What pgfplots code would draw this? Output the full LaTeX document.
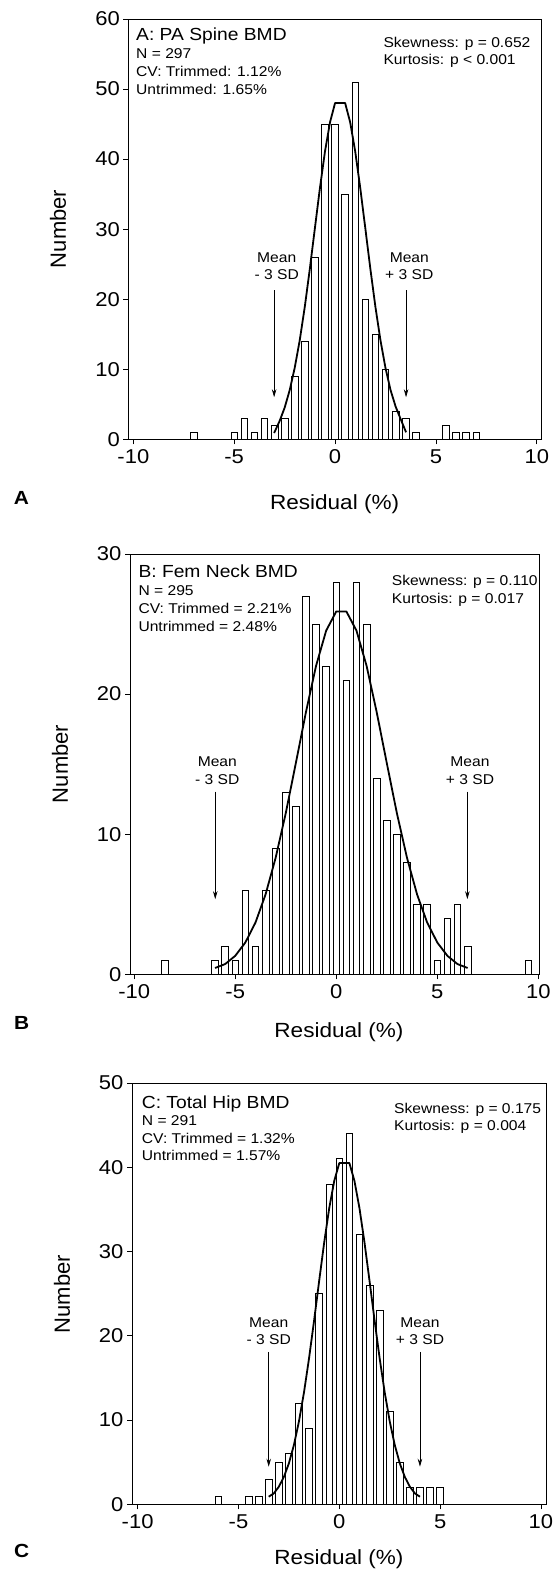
\documentclass[border=0pt]{standalone}
\usepackage{fontspec}
\setmainfont{Liberation Sans}[FakeStretch=1.1]
\newfontfamily\plainsans{Liberation Sans}
\usepackage{pgfplots}
\pgfplotsset{compat=1.18}
\usetikzlibrary{arrows.meta}
\newcommand{\fs}[1]{\fontsize{#1}{#1}\selectfont}
\tikzset{arr/.style={-{Stealth[length=8pt,width=4.5pt]}, line width=0.7pt}}
\pgfplotsset{
  hist/.style={
    scale only axis,
    anchor=south west,
    axis line style={line width=0.8pt},
    tick style={line width=0.7pt,black},
    major tick length=5pt,
    tick align=outside,
    xtick pos=bottom, ytick pos=left,
    xtick={-10,-5,0,5,10},
    xticklabels={-10,-5,0,5,10},
    ticklabel style={font=\fs{20}},
    xticklabel style={yshift=-1.5pt},
    yticklabel style={xshift=0pt},
  },
  bars/.style={ybar, bar shift=0pt, bar width=0.33, fill=white, draw=black, line width=0.7pt},
  curve/.style={black, line width=1.8pt, line join=round},
}
\begin{document}
\begin{tikzpicture}[x=1pt,y=1pt]
\useasboundingbox (0,0) rectangle (556,1571);

% ---------------- Panel A ----------------
\begin{axis}[hist, at={(128.3pt,1131.7pt)}, width=412.7pt, height=420.3pt,
  xmin=-10.25, xmax=10.21, ymin=0, ymax=60,
  ytick={0,10,20,30,40,50,60}, yticklabels={0,10,20,30,40,50,60}]
\addplot[bars] coordinates {
(-7.0,1) (-5.0,1) (-4.5,3) (-4.0,1) (-3.5,3) (-3.0,2) (-2.5,3) (-2.0,9)
(-1.5,14) (-1.0,26) (-0.5,45) (0.0,45) (0.5,35) (1.0,51) (1.5,20) (2.0,15)
(2.5,10) (3.0,4) (3.5,3) (4.0,1) (5.5,2) (6.0,1) (6.5,1) (7.0,1)};
\addplot[curve] coordinates {
(-3.02,0.9) (-2.75,2.6) (-2.5,4.5) (-2.25,7.0) (-2.0,10.2) (-1.75,14.15)
(-1.5,18.92) (-1.25,24.34) (-1.0,30.13) (-0.75,35.86) (-0.5,41.08) (-0.25,45.25)
(0.0,48) (0.5,48) (0.75,45.25) (1.0,41.08) (1.25,35.86) (1.5,30.13) (1.75,24.34)
(2.0,18.92) (2.25,14.15) (2.5,10.18) (2.75,7.04) (3.0,4.69) (3.25,2.9) (3.52,1.0)};
\draw[arr] (axis cs:-3.02,21.3) -- (axis cs:-3.02,6.0);
\draw[arr] (axis cs:3.52,21.3) -- (axis cs:3.52,6.0);
\end{axis}
\node[anchor=base west,inner sep=0pt,font=\fs{17.5}] at (136,1530) {A: PA Spine BMD};
\node[anchor=base west,inner sep=0pt,font=\fs{14.2}] at (136,1512) {N = 297};
\node[anchor=base west,inner sep=0pt,font=\fs{14.2}] at (136,1494) {CV: Trimmed: 1.12\%};
\node[anchor=base west,inner sep=0pt,font=\fs{14.2}] at (136,1476) {Untrimmed: 1.65\%};
\node[anchor=base west,inner sep=0pt,font=\fs{14.2}] at (383.3,1523.7) {Skewness: p = 0.652};
\node[anchor=base west,inner sep=0pt,font=\fs{14.2}] at (383.3,1506) {Kurtosis: p < 0.001};
\node[anchor=base,inner sep=0pt,font=\fs{14.2}] at (276.7,1308.3) {Mean};
\node[anchor=base,inner sep=0pt,font=\fs{14.2}] at (276.7,1291.7) {- 3 SD};
\node[anchor=base,inner sep=0pt,font=\fs{14.2}] at (409.3,1308.3) {Mean};
\node[anchor=base,inner sep=0pt,font=\fs{14.2}] at (409.3,1291.7) {+ 3 SD};
\node[anchor=base,inner sep=0pt,font=\fs{20.5}] at (334.6,1061.4) {Residual (\%)};
\node[anchor=base west,inner sep=0pt,font=\fs{19}\bfseries] at (13.6,1066.5) {A};
\node[rotate=90,anchor=center,inner sep=0pt,font=\plainsans\fs{22}] at (58,1342) {Number};

% ---------------- Panel B ----------------
\begin{axis}[hist, at={(130pt,596.7pt)}, width=409.3pt, height=420.3pt,
  xmin=-10.21, xmax=10.05, ymin=0, ymax=30,
  ytick={0,10,20,30}, yticklabels={0,10,20,30}]
\addplot[bars] coordinates {
(-8.5,1) (-6.0,1) (-5.5,2) (-5.0,1) (-4.5,6) (-4.0,2) (-3.5,6) (-3.0,9)
(-2.5,13) (-2.0,12) (-1.5,27) (-1.0,25) (-0.5,22) (0.0,28) (0.5,21) (1.0,28)
(1.5,25) (2.0,14) (2.5,11) (3.0,10) (3.5,8) (4.0,5) (4.5,5) (5.0,1)
(5.5,4) (6.0,5) (6.5,2) (9.5,1)};
\addplot[curve] coordinates {
(-6.0,0.45) (-5.5,0.73) (-5.0,1.32) (-4.5,2.27) (-4.0,3.69) (-3.5,5.70)
(-3.0,8.32) (-2.5,11.50) (-2.0,15.08) (-1.5,18.72) (-1.0,22.02) (-0.5,24.53)
(0.0,25.9) (0.5,25.9) (1.0,24.53) (1.5,22.02) (2.0,18.72) (2.5,15.08)
(3.0,11.50) (3.5,8.32) (4.0,5.70) (4.5,3.69) (5.0,2.27) (5.5,1.32) (6.0,0.73) (6.5,0.45)};
\draw[arr] (axis cs:-5.99,13.04) -- (axis cs:-5.99,5.36);
\draw[arr] (axis cs:6.49,13.04) -- (axis cs:6.49,5.36);
\end{axis}
\node[anchor=base west,inner sep=0pt,font=\fs{17.5}] at (138.3,993.7) {B: Fem Neck BMD};
\node[anchor=base west,inner sep=0pt,font=\fs{14.2}] at (138.3,975) {N = 295};
\node[anchor=base west,inner sep=0pt,font=\fs{14.2}] at (138.3,957) {CV: Trimmed = 2.21\%};
\node[anchor=base west,inner sep=0pt,font=\fs{14.2}] at (138.3,939.3) {Untrimmed = 2.48\%};
\node[anchor=base west,inner sep=0pt,font=\fs{14.2}] at (391.7,985.3) {Skewness: p = 0.110};
\node[anchor=base west,inner sep=0pt,font=\fs{14.2}] at (391.7,967.7) {Kurtosis: p = 0.017};
\node[anchor=base,inner sep=0pt,font=\fs{14.2}] at (217.3,804.3) {Mean};
\node[anchor=base,inner sep=0pt,font=\fs{14.2}] at (217.3,786.7) {- 3 SD};
\node[anchor=base,inner sep=0pt,font=\fs{14.2}] at (470,804.3) {Mean};
\node[anchor=base,inner sep=0pt,font=\fs{14.2}] at (470,786.7) {+ 3 SD};
\node[anchor=base,inner sep=0pt,font=\fs{20.5}] at (339,533.3) {Residual (\%)};
\node[anchor=base west,inner sep=0pt,font=\fs{19}\bfseries] at (14,541.5) {B};
\node[rotate=90,anchor=center,inner sep=0pt,font=\plainsans\fs{22}] at (60,807) {Number};

% ---------------- Panel C ----------------
\begin{axis}[hist, at={(132pt,66.7pt)}, width=414pt, height=421.3pt,
  xmin=-10.28, xmax=10.25, ymin=0, ymax=50,
  ytick={0,10,20,30,40,50}, yticklabels={0,10,20,30,40,50}]
\addplot[bars] coordinates {
(-6.0,1) (-4.5,1) (-4.0,1) (-3.5,3) (-3.0,5) (-2.5,6) (-2.0,12) (-1.5,9)
(-1.0,25) (-0.5,38) (0.0,41) (0.5,44) (1.0,32) (1.5,26) (2.0,23) (2.5,11)
(3.0,5) (3.5,2) (4.0,2) (4.5,2) (5.0,2)};
\addplot[curve] coordinates {
(-3.5,0.9) (-3.25,1.29) (-3.0,2.08) (-2.75,3.24) (-2.5,4.86) (-2.25,7.04)
(-2.0,9.85) (-1.75,13.30) (-1.5,17.34) (-1.25,21.81) (-1.0,26.49) (-0.75,31.06)
(-0.5,35.14) (-0.25,38.39) (0.0,40.5) (0.5,40.5) (0.75,38.39) (1.0,35.14)
(1.25,31.06) (1.5,26.49) (1.75,21.81) (2.0,17.34) (2.25,13.30) (2.5,9.85)
(2.75,7.04) (3.0,4.86) (3.25,3.24) (3.5,2.08) (3.75,1.29) (4.0,0.9)};
\draw[arr] (axis cs:-3.5,18.1) -- (axis cs:-3.5,4.46);
\draw[arr] (axis cs:4.0,18.1) -- (axis cs:4.0,4.46);
\end{axis}
\node[anchor=base west,inner sep=0pt,font=\fs{17.5}] at (141.7,462) {C: Total Hip BMD};
\node[anchor=base west,inner sep=0pt,font=\fs{14.2}] at (141.7,445.3) {N = 291};
\node[anchor=base west,inner sep=0pt,font=\fs{14.2}] at (141.7,427.7) {CV: Trimmed = 1.32\%};
\node[anchor=base west,inner sep=0pt,font=\fs{14.2}] at (141.7,410) {Untrimmed = 1.57\%};
\node[anchor=base west,inner sep=0pt,font=\fs{14.2}] at (394,457.7) {Skewness: p = 0.175};
\node[anchor=base west,inner sep=0pt,font=\fs{14.2}] at (394,440.3) {Kurtosis: p = 0.004};
\node[anchor=base,inner sep=0pt,font=\fs{14.2}] at (268.7,243.3) {Mean};
\node[anchor=base,inner sep=0pt,font=\fs{14.2}] at (268.7,226) {- 3 SD};
\node[anchor=base,inner sep=0pt,font=\fs{14.2}] at (420,243.3) {Mean};
\node[anchor=base,inner sep=0pt,font=\fs{14.2}] at (420,226) {+ 3 SD};
\node[anchor=base,inner sep=0pt,font=\fs{20.5}] at (339,6) {Residual (\%)};
\node[anchor=base west,inner sep=0pt,font=\fs{19}\bfseries] at (14,13) {C};
\node[rotate=90,anchor=center,inner sep=0pt,font=\plainsans\fs{22}] at (62,277) {Number};
\end{tikzpicture}
\end{document}
